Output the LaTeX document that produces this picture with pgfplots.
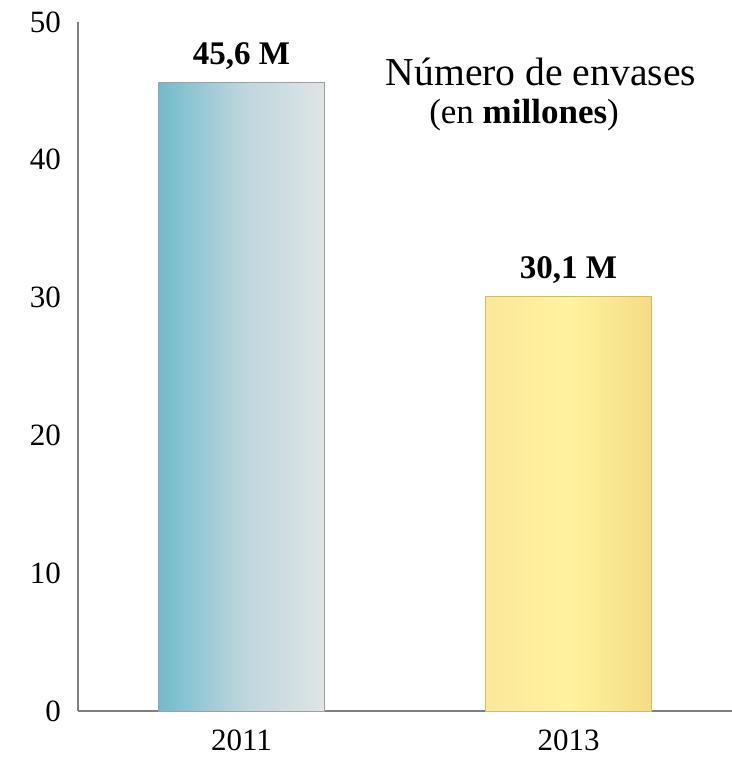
\documentclass[border=0pt]{standalone}
\usepackage{fontspec}
\setmainfont{Liberation Serif}
\usepackage{pgfplots}
\pgfplotsset{compat=1.18}

\definecolor{tealA}{HTML}{72BACB}
\definecolor{tealB}{HTML}{BCD6DD}
\definecolor{greyC}{HTML}{E0E4E5}
\definecolor{yelA}{HTML}{FCE79A}
\definecolor{yelB}{HTML}{FFF39F}
\definecolor{yelC}{HTML}{F4DC84}
\definecolor{axisgrey}{HTML}{7F7F7F}

\begin{document}
\begin{tikzpicture}
\begin{axis}[
    scale only axis,
    width=327pt,
    height=344.5pt,
    xmin=-0.5, xmax=1.5,
    ymin=0, ymax=50,
    xtick={0,1},
    xticklabels={2011,2013},
    ytick={0,10,20,30,40,50},
    axis x line*=bottom,
    axis y line*=left,
    axis line style={draw=axisgrey, line width=1pt, -},
    major tick length=0pt,
    tick label style={font=\fontsize{15.5}{18}\selectfont},
    /pgf/number format/assume math mode=true,
    yticklabel style={xshift=-5pt},
    xticklabel style={yshift=-6pt},
    bar width=0.51,
    point meta=explicit symbolic,
    nodes near coords={\pgfplotspointmeta},
    nodes near coords style={font=\fontsize{16.5}{18}\selectfont\bfseries, yshift=3pt},
    clip=false,
]
% 2011 and 2013 bars, each with its own gradient
\addplot[ybar, bar shift=0pt, draw=greyC!70!black, line width=0.4pt,
    left color=tealA, right color=greyC, middle color=tealB]
    coordinates {(0,45.6)[45,6 M]};
\addplot[ybar, bar shift=0pt, draw=yelC!85!black, line width=0.4pt,
    left color=yelA, right color=yelC, middle color=yelB]
    coordinates {(1,30.1)[30,1 M]};
\node[font=\fontsize{19.8}{22}\selectfont] at (rel axis cs:0.708,0.927) {Número de envases};
\node[font=\fontsize{17.5}{20}\selectfont] at (rel axis cs:0.682,0.865) {(en \textbf{millones})};
\coordinate (sw) at (rel axis cs:0,0);
\coordinate (ne) at (rel axis cs:1,1);
\end{axis}
\pgfresetboundingbox
\path ([shift={(-39pt,-24pt)}]sw) rectangle ([shift={(0pt,11pt)}]ne);
\end{tikzpicture}
\end{document}
